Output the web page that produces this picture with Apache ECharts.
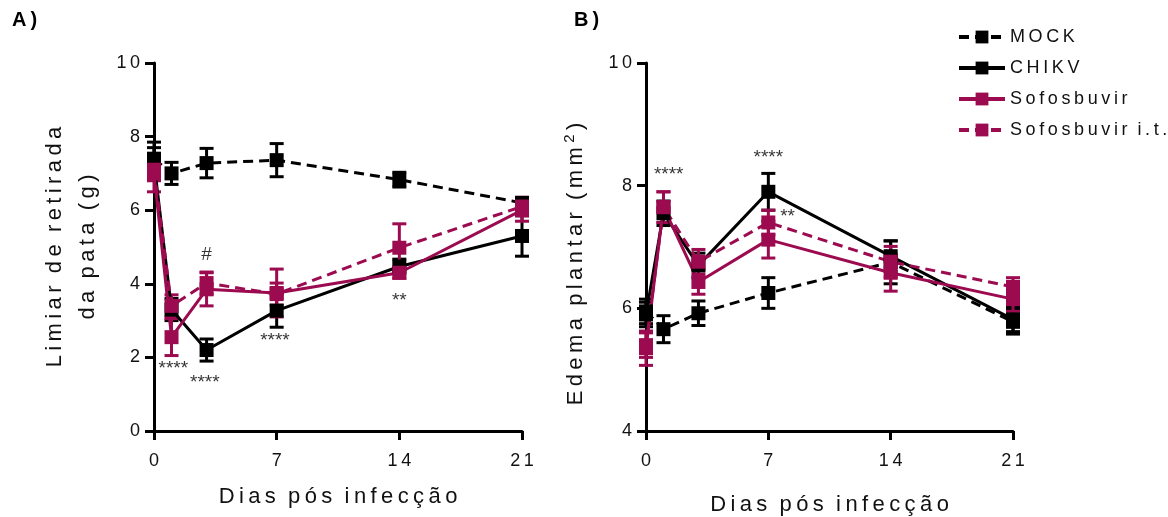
<!DOCTYPE html>
<html>
<head>
<meta charset="utf-8">
<script src="https://cdn.jsdelivr.net/npm/echarts@6/dist/echarts.min.js"></script>
<style>
  html, body { margin: 0; padding: 0; background: #fff; }
  #main { width: 1168px; height: 517px; }
</style>
</head>
<body>
<div id="main"></div>
<script>
// dados
var days = [0, 1, 3, 7, 14, 21];
var seriesNames = ['MOCK', 'CHIKV', 'Sofosbuvir', 'Sofosbuvir i.t.'];

// A) limiar de retirada da pata (g)
var mockA = [7.4, 7.0, 7.28, 7.36, 6.83, 6.2];
var mockAErr = [0.45, 0.3, 0.4, 0.45, 0.2, 0.12];
var chikvA = [7.3, 3.3, 2.2, 3.27, 4.47, 5.3];
var chikvAErr = [0.4, 0.3, 0.3, 0.45, 0.2, 0.55];
var sofA = [7.0, 2.55, 3.85, 3.75, 4.3, 6.0];
var sofAErr = [0.5, 0.5, 0.45, 0.65, 0.15, 0.3];
var sofItA = [7.1, 3.4, 4.02, 3.72, 4.98, 6.1];
var sofItAErr = [0.3, 0.3, 0.3, 0.3, 0.65, 0.25];

// B) edema plantar (mm2)
var mockB = [5.95, 5.66, 5.92, 6.25, 6.75, 5.78];
var mockBErr = [0.2, 0.22, 0.2, 0.25, 0.35, 0.2];
var chikvB = [5.9, 7.55, 6.7, 7.9, 6.85, 5.82];
var chikvBErr = [0.2, 0.2, 0.2, 0.3, 0.25, 0.2];
var sofB = [5.35, 7.65, 6.43, 7.12, 6.58, 6.15];
var sofBErr = [0.28, 0.25, 0.2, 0.3, 0.3, 0.2];
var sofItB = [5.4, 7.65, 6.76, 7.4, 6.76, 6.35];
var sofItBErr = [0.2, 0.25, 0.2, 0.2, 0.25, 0.15];

// anotações de significância [dia, y, texto]
var annA = [[1.1, 1.7, '****'], [2.9, 1.3, '****'], [3, 4.78, '#'], [6.9, 2.45, '****'], [14, 3.55, '**']];
var annB = [[1.3, 8.18, '****'], [7, 8.45, '****'], [8.1, 7.5, '**']];

var black = '#000000';
var magenta = '#9c0a50';

// espaçamento entre letras
function spaced(s) {
    return String(s).split('').join('\u2009');
}

var myChart = echarts.init(document.getElementById('main'));

function lineSeries(name, vals, color, dashed, gi) {
    return {
        name: name,
        type: 'line',
        xAxisIndex: gi,
        yAxisIndex: gi,
        data: days.map(function (d, i) { return [d, vals[i]]; }),
        symbol: 'rect',
        symbolSize: 14,
        itemStyle: { color: color },
        lineStyle: { color: color, width: 3, type: dashed ? [10, 6] : 'solid' },
        z: 3,
        animation: false
    };
}

function errSeries(vals, errs, color, gi) {
    return {
        type: 'custom',
        xAxisIndex: gi,
        yAxisIndex: gi,
        data: days.map(function (d, i) { return [d, vals[i] - errs[i], vals[i] + errs[i]]; }),
        renderItem: function (params, api) {
            var lo = api.coord([api.value(0), api.value(1)]);
            var hi = api.coord([api.value(0), api.value(2)]);
            var w = 7;
            var st = { stroke: color, lineWidth: 3 };
            return {
                type: 'group',
                children: [
                    { type: 'line', shape: { x1: lo[0], y1: lo[1], x2: hi[0], y2: hi[1] }, style: st },
                    { type: 'line', shape: { x1: lo[0] - w, y1: lo[1], x2: lo[0] + w, y2: lo[1] }, style: st },
                    { type: 'line', shape: { x1: hi[0] - w, y1: hi[1], x2: hi[0] + w, y2: hi[1] }, style: st }
                ]
            };
        },
        z: 2,
        silent: true,
        animation: false
    };
}

function annSeries(ann, gi) {
    return {
        type: 'scatter',
        xAxisIndex: gi,
        yAxisIndex: gi,
        symbolSize: 0,
        data: ann.map(function (a) { return { value: [a[0], a[1]], label: { formatter: a[2] } }; }),
        label: { show: true, position: 'inside', color: '#000', fontSize: 19, fontFamily: 'Liberation Sans' },
        silent: true,
        animation: false,
        z: 5
    };
}

function xAx(gi) {
    return {
        type: 'value',
        gridIndex: gi,
        min: 0, max: 21, interval: 7,
        splitLine: { show: false },
        axisLine: { lineStyle: { color: black, width: 3 } },
        axisTick: { length: 9, lineStyle: { color: black, width: 3 } },
        axisLabel: { color: '#111', fontSize: 18, fontFamily: 'Liberation Sans', margin: 21, formatter: spaced },
        name: spaced('Dias') + '  ' + spaced('pós') + '  ' + spaced('infecção'),
        nameLocation: 'middle',
        nameGap: gi === 0 ? 55 : 63,
        nameTextStyle: { color: '#111', fontSize: 22, fontFamily: 'Liberation Sans' }
    };
}

var option = {
    backgroundColor: '#fff',
    grid: [
        { left: 154, top: 63, width: 368, height: 368, outerBoundsMode: 'none', containLabel: false },
        { left: 646, top: 63, width: 367, height: 368, outerBoundsMode: 'none', containLabel: false }
    ],
    legend: {
        data: seriesNames,
        orient: 'vertical',
        left: 952,
        top: 23,
        itemWidth: 46,
        itemHeight: 16,
        itemGap: 13,
        lineStyle: { width: 4 },
        textStyle: { color: '#111', fontSize: 18, fontFamily: 'Liberation Sans' },
        formatter: function (n) {
            return n.split(' ').map(spaced).join('  ');
        },
        selectedMode: false
    },
    xAxis: [xAx(0), xAx(1)],
    yAxis: [
        {
            type: 'value', gridIndex: 0,
            min: 0, max: 10, interval: 2,
            splitLine: { show: false },
            axisLine: { show: true, lineStyle: { color: black, width: 3 } },
            axisTick: { show: true, length: 9, lineStyle: { color: black, width: 3 } },
            axisLabel: { color: '#111', fontSize: 18, fontFamily: 'Liberation Sans', margin: 14, formatter: spaced },
            name: spaced('Limiar') + '  ' + spaced('de') + '  ' + spaced('retirada') + '\n' + spaced('da') + '  ' + spaced('pata') + '  ' + spaced('(g)'),
            nameLocation: 'middle',
            nameRotate: 90,
            nameGap: 50,
            nameTextStyle: { color: '#111', fontSize: 22, fontFamily: 'Liberation Sans', lineHeight: 33 }
        },
        {
            type: 'value', gridIndex: 1,
            min: 4, max: 10, interval: 2,
            splitLine: { show: false },
            axisLine: { show: true, lineStyle: { color: black, width: 3 } },
            axisTick: { show: true, length: 9, lineStyle: { color: black, width: 3 } },
            axisLabel: { color: '#111', fontSize: 18, fontFamily: 'Liberation Sans', margin: 14, formatter: spaced }
        }
    ],
    graphic: [
        { type: 'text', left: 12, top: 10, style: { text: 'A\u2009)', fontSize: 20, fontWeight: 'bold', fill: '#000', fontFamily: 'Liberation Sans' } },
        { type: 'text', left: 574, top: 10, style: { text: 'B\u2009)', fontSize: 20, fontWeight: 'bold', fill: '#000', fontFamily: 'Liberation Sans' } },
        {
            type: 'text', x: 576, y: 264, rotation: Math.PI / 2,
            style: {
                text: spaced('Edema') + '  ' + spaced('plantar') + '  ' + spaced('(mm') + '\u2009{s|2}\u2009' + spaced(')'),
                rich: { s: { fontSize: 15, padding: [0, 0, 12, 0], fill: '#111', fontFamily: 'Liberation Sans' } },
                fontSize: 22, fill: '#111', fontFamily: 'Liberation Sans',
                align: 'center', verticalAlign: 'middle'
            }
        }
    ],
    series: [
        lineSeries('MOCK', mockA, black, true, 0),
        lineSeries('CHIKV', chikvA, black, false, 0),
        lineSeries('Sofosbuvir', sofA, magenta, false, 0),
        lineSeries('Sofosbuvir i.t.', sofItA, magenta, true, 0),
        errSeries(mockA, mockAErr, black, 0),
        errSeries(chikvA, chikvAErr, black, 0),
        errSeries(sofA, sofAErr, magenta, 0),
        errSeries(sofItA, sofItAErr, magenta, 0),
        annSeries(annA, 0),

        lineSeries('MOCK', mockB, black, true, 1),
        lineSeries('CHIKV', chikvB, black, false, 1),
        lineSeries('Sofosbuvir', sofB, magenta, false, 1),
        lineSeries('Sofosbuvir i.t.', sofItB, magenta, true, 1),
        errSeries(mockB, mockBErr, black, 1),
        errSeries(chikvB, chikvBErr, black, 1),
        errSeries(sofB, sofBErr, magenta, 1),
        errSeries(sofItB, sofItBErr, magenta, 1),
        annSeries(annB, 1)
    ]
};

myChart.setOption(option, true);
</script>
</body>
</html>
